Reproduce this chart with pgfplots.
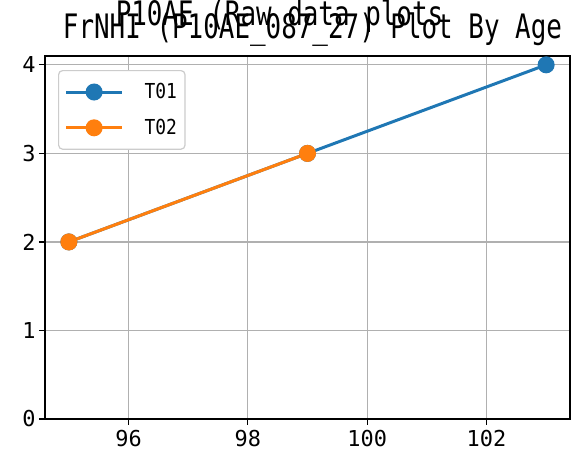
\documentclass[border=0pt]{standalone}
\usepackage{pgfplots}
\pgfplotsset{compat=1.18}
\usepackage{graphicx}
\usepackage{fontspec}
\setmainfont{DejaVu Sans Mono}
\definecolor{tabblue}{HTML}{1F77B4}
\definecolor{taborange}{HTML}{FF7F0E}
\begin{document}
\begin{tikzpicture}[x=1bp,y=1bp]
\path[use as bounding box] (-45,-42) rectangle (527,419);
\begin{axis}[
  at={(0,0)}, anchor=south west,
  scale only axis, width=525bp, height=363bp,
  xmin=94.6, xmax=103.4, ymin=0, ymax=4.1,
  xtick={96,98,100,102}, ytick={0,1,2,3,4},
  grid=major, major grid style={color=black!31, line width=1.3pt},
  axis line style={line width=1.3pt},
  tick style={black, line width=1.3pt},
  tick align=outside, major tick length=6bp,
  xtick pos=bottom, ytick pos=left,
  /pgf/number format/assume math mode=true,
  ticklabel style={font=\fontsize{22}{22}\selectfont},
  xticklabel style={yshift=-2bp},
  legend style={at={(0.0248,0.9614)}, anchor=north west, draw=black!20, line width=1.2pt, rounded corners=4bp,
    font=\fontsize{18}{18}\selectfont, row sep=15bp, inner xsep=6bp, inner ysep=11bp,
    nodes={inner sep=2bp}},
  legend cell align=left,
  legend image code/.code={\draw[mark repeat=2,mark phase=2] plot coordinates {(0bp,0bp) (28bp,0bp) (56bp,0bp)};},
  clip=false,
]
\addplot[tabblue, line width=3pt, mark=*, mark size=7bp, mark options={solid}] coordinates {(95,2) (99,3) (103,4)};
\addlegendentry{\hspace{19bp}\scalebox{1}[1.15]{T01}\hspace{16bp}}
\addplot[taborange, line width=3pt, mark=*, mark size=7bp] coordinates {(95,2) (99,3)};
\addlegendentry{\hspace{19bp}\scalebox{1}[1.15]{T02}\hspace{16bp}}
\node[anchor=base, font=\fontsize{26}{26}\selectfont] at (rel axis cs:0.5095,1) [yshift=17bp] {\scalebox{1}[1.3]{FrNHI (P10AE\_087\_27) Plot By Age}};
\node[anchor=base, font=\fontsize{26}{26}\selectfont] at (rel axis cs:0.4467,1) [yshift=30bp] {\scalebox{1}[1.3]{P10AE (Raw data plots}};
\end{axis}
\end{tikzpicture}
\end{document}
